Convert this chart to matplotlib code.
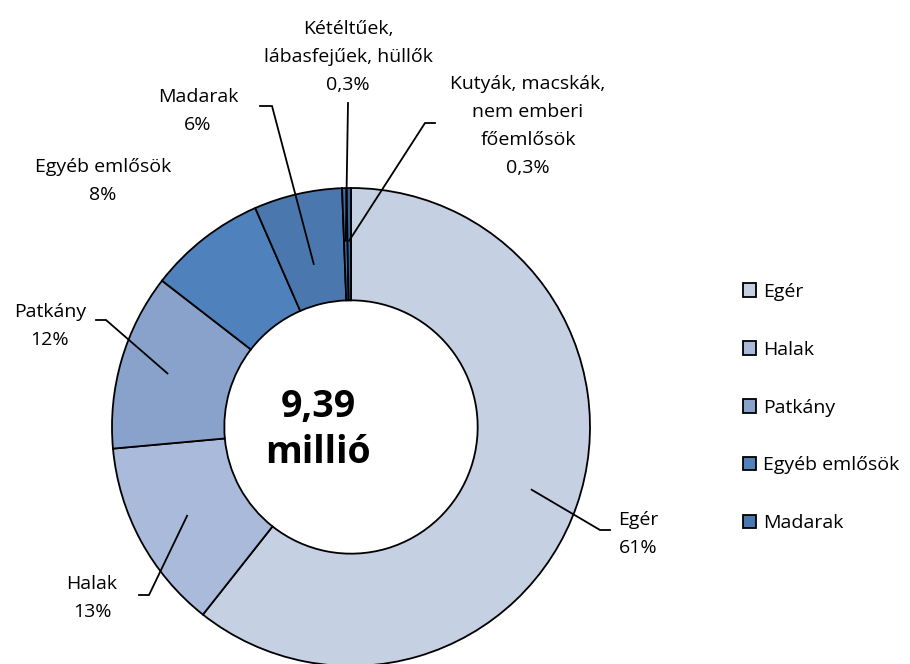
import numpy as np
import matplotlib.pyplot as plt

plt.rcParams['font.family'] = ['Open Sans', 'DejaVu Sans']

# share of animals used, percent
categories = ["Egér", "Halak", "Patkány", "Egyéb emlősök", "Madarak",
              "Kétéltűek,\nlábasfejűek, hüllők",
              "Kutyák, macskák,\nnem emberi\nfőemlősök"]
shares = [61, 13, 12, 8, 6, 0.3, 0.3]
share_labels = ["61%", "13%", "12%", "8%", "6%", "0,3%", "0,3%"]
legend_names = ["Egér", "Halak", "Patkány", "Egyéb emlősök", "Madarak"]
total_label = "9,39\nmillió"

colors = ["#C6D0E3", "#AABADA", "#88A2CC", "#4F81BD", "#4A77AE",
          "#3F6BA0", "#3A6397"]

W, H = 910, 664
fig = plt.figure(figsize=(W / 100, H / 100), dpi=100)
ax = fig.add_axes([0, 0, 1, 1])
ax.set_xlim(0, W)
ax.set_ylim(0, H)
ax.set_aspect("equal")
ax.axis("off")


def px(x, y):
    # pixel position (origin top-left) -> data coords
    return x, H - y


cx, cy = px(351, 427)
R = 239
wedges, _ = ax.pie(shares, colors=colors, startangle=90, counterclock=False,
                   center=(cx, cy), radius=R,
                   wedgeprops=dict(width=R * 0.47, edgecolor="black",
                                   linewidth=1.3))
ax.set_xlim(0, W)
ax.set_ylim(0, H)

ax.text(*px(318, 430), total_label, ha="center", va="center", fontsize=27,
        fontweight="bold", linespacing=1.3)

# label text centre, elbow point, end of horizontal stub, leader radius
label_layout = [
    ((638, 534), (600, 530), (610, 530), 0.80),
    ((92, 598), (149, 595), (139, 595), 0.78),
    ((50, 326), (106, 320), (96, 320), 0.80),
    ((103, 181), None, None, None),
    ((198, 111), (272, 106), (260, 106), 0.70),
    ((348, 57), (348, 103), (348, 103), 0.78),
    ((528, 126), (425, 123), (435, 123), 0.78),
]

for w, name, pct, (txt, elbow, stub, rf) in zip(wedges, categories,
                                                share_labels, label_layout):
    ax.text(*px(*txt), f"{name}\n{pct}", ha="center", va="center",
            fontsize=14, linespacing=1.72)
    if elbow is None:
        continue
    ang = np.deg2rad((w.theta1 + w.theta2) / 2)
    sx, sy = cx + rf * R * np.cos(ang), cy + rf * R * np.sin(ang)
    ex, ey = px(*elbow)
    tx, ty = px(*stub)
    ax.plot([sx, ex, tx], [sy, ey, ty], color="black", lw=1.3,
            solid_joinstyle="miter")

ax.legend(wedges[:5], legend_names, loc="upper left",
          bbox_to_anchor=(735 / W, 1 - 275 / H), frameon=False, fontsize=14,
          handlelength=0.7, handleheight=0.7, handletextpad=0.35,
          labelspacing=2.05, borderaxespad=0)

fig.savefig("out.png", dpi=100)
